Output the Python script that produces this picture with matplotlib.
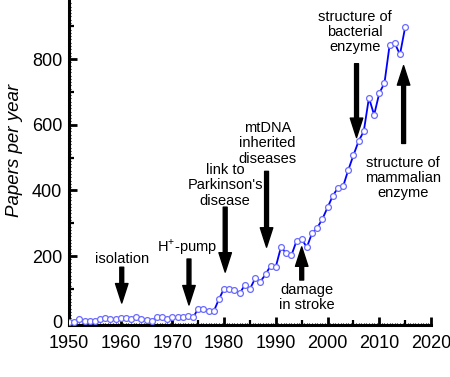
import matplotlib
matplotlib.use("Agg")
import matplotlib.pyplot as plt
import numpy as np

years = list(range(1950, 2016))
papers = [0, 0, 7, 1, 2, 1, 8, 11, 8, 9,
          10, 10, 9, 13, 7, 6, 3, 14, 14, 9,
          14, 14, 15, 17, 13, 40, 38, 33, 32, 69,
          101, 100, 96, 86, 112, 100, 132, 122, 144, 171,
          168, 228, 208, 202, 246, 251, 227, 270, 286, 313,
          348, 383, 408, 412, 462, 507, 550, 580, 682, 630,
          696, 727, 843, 848, 814, 897]

# annotations: (text, x, text_y, tail_y, tip_y, text_x)
notes = [
    ("isolation", 1960.2, 190, 166, 57, 1960.2),
    ("H$^{+}$-pump", 1973.2, 227, 191, 51, 1972.8),
    ("link to\nParkinson's\ndisease", 1980.2, 415, 349, 151, 1980.2),
    ("mtDNA\ninherited\ndiseases", 1988.2, 543, 458, 227, 1988.4),
    ("damage\nin stroke", 1995.0, 75, 127, 228, 1996.0),
    ("structure of\nbacterial\nenzyme", 2005.6, 883, 786, 561, 2005.3),
    ("structure of\nmammalian\nenzyme", 2014.7, 437, 543, 780, 2014.6),
]

plt.rcParams['font.family'] = ['Liberation Sans', 'DejaVu Sans']
plt.rcParams['mathtext.fontset'] = 'custom'
plt.rcParams['mathtext.rm'] = 'Liberation Sans'

fig = plt.figure(figsize=(4.5, 3.77), dpi=100)
ax = fig.add_axes([69/450, 52/377, 362/450, 1 - 52/377])

ax.plot(years, papers, color='#0000ff', lw=1.3, marker='o', ms=4.2,
        mfc='white', mec='#6a6aff', mew=0.9, zorder=3)

ax.set_xlim(1950, 2020)
ax.set_ylim(-10, 980)

for s in ['top', 'right']:
    ax.spines[s].set_visible(False)
for s in ['left', 'bottom']:
    ax.spines[s].set_linewidth(2.2)

ax.set_xticks(range(1950, 2021, 10))
ax.set_yticks(range(0, 801, 200))
ax.set_xticks(np.arange(1950, 2020.01, 0.5), minor=True)
ax.set_yticks(range(0, 980, 10), minor=True)
ax.tick_params(which='major', direction='in', length=6, width=2, labelsize=13, pad=5)
ax.tick_params(axis='x', which='major', pad=7)
ax.tick_params(which='minor', direction='in', length=1.5, width=0.8)

# medium ticks
sx = ax.secondary_xaxis('bottom')
sx.set_xticks(range(1955, 2020, 10))
sx.tick_params(direction='in', length=3.5, width=1.6, labelbottom=False)
sx.spines['bottom'].set_visible(False)
sy = ax.secondary_yaxis('left')
sy.set_yticks(range(100, 980, 200))
sy.tick_params(direction='in', length=3.5, width=1.6, labelleft=False)
sy.spines['left'].set_visible(False)

fig.text(15/450, 1 - 150/377, 'Papers per year', rotation=90, fontsize=13.5,
         style='italic', ha='center', va='center')

for txt, x, ty, tail, tip, tx in notes:
    ax.annotate('', xy=(x, tip), xytext=(x, tail),
                arrowprops=dict(facecolor='black', edgecolor='black',
                                width=2.8, headwidth=9, headlength=14, shrink=0))
    ax.text(tx, ty, txt, ha='center', va='center', fontsize=10.5,
            linespacing=1.1)

fig.savefig('out.png', dpi=100)
